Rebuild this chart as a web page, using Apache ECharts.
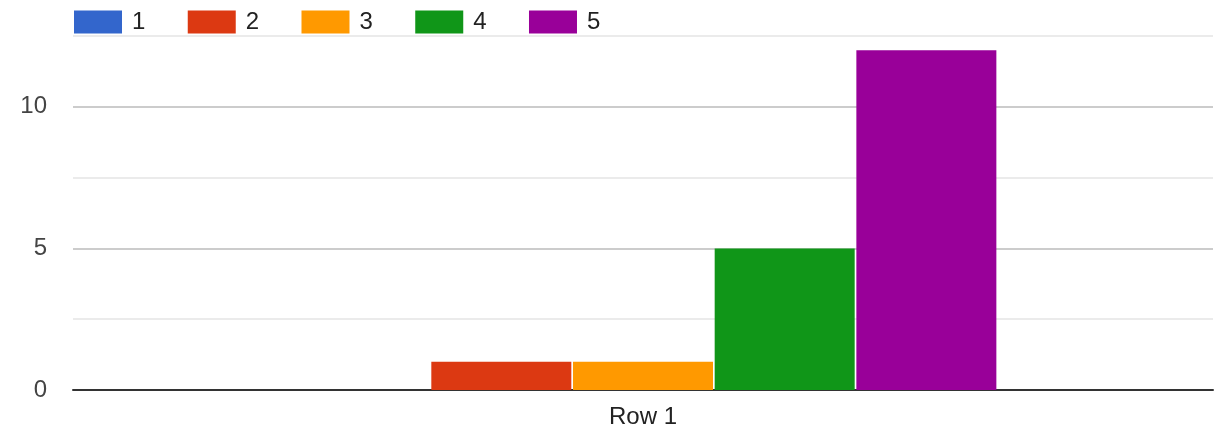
<!DOCTYPE html>
<html><head><meta charset="utf-8">
<script src="https://cdn.jsdelivr.net/npm/echarts@6/dist/echarts.min.js"></script>
<style>html,body{margin:0;padding:0;background:#fff}#c{width:1228px;height:432px}</style>
</head><body><div id="c"></div>
<script>
const categories = ['Row 1'];
const seriesNames = ['1', '2', '3', '4', '5'];
const seriesValues = [[0], [1], [1], [5], [12]];
const colors = ['#3366cc', '#dc3912', '#ff9900', '#109618', '#990099'];
const yLabels = [0, 5, 10];

const chart = echarts.init(document.getElementById('c'), null, {renderer: 'canvas'});
chart.setOption({
  animation: false,
  color: colors,
  textStyle: {fontFamily: 'Liberation Sans, Arial, sans-serif'},
  legend: {
    left: 69, top: 5, itemWidth: 48, itemHeight: 23, itemGap: 42.4,
    icon: 'rect',
    textStyle: {fontSize: 24, lineHeight: 24, color: '#222', padding: [0, 0, 0, 5]},
    data: seriesNames
  },
  grid: {left: 73, right: 15, top: 36, bottom: 42, containLabel: false},
  xAxis: {
    type: 'category', data: categories,
    axisLine: {show: true, lineStyle: {color: '#333', width: 2}},
    axisTick: {show: false},
    axisLabel: {fontSize: 24, color: '#222', margin: 15}
  },
  yAxis: {
    type: 'value', min: 0, max: 12.5, interval: 2.5,
    axisLine: {show: false}, axisTick: {show: false},
    axisLabel: {fontSize: 24, lineHeight: 28, color: '#444', margin: 26, verticalAlign: 'middle', padding: [6, 0, 0, 0],
      formatter: v => yLabels.includes(v) ? String(v) : ''},
    splitLine: {lineStyle: {color: ['#cccccc', '#ebebeb'], width: 2}}
  },
  series: seriesNames.map((n, i) => ({
    name: n, type: 'bar', data: seriesValues[i],
    barWidth: 140, barGap: '1.2%',
    itemStyle: {color: colors[i]}
  }))
});
</script></body></html>
